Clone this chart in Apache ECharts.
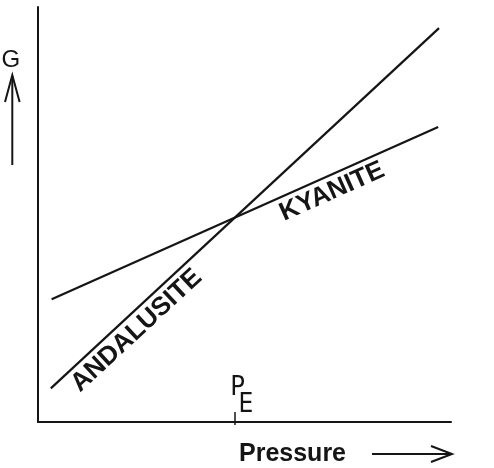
<!DOCTYPE html>
<html><head><meta charset="utf-8">
<script src="https://cdn.jsdelivr.net/npm/echarts@6/dist/echarts.min.js"></script>
<style>html,body{margin:0;padding:0;background:#fff}#c{width:494px;height:468px}</style>
</head><body><div id="c"></div>
<script>
// Data (arbitrary units: pressure 0-100, G 0-100)
const pressure = [3.1, 97.1];
const andalusiteG = [8.1, 94.9];
const kyanitePressure = [3.3, 96.9];
const kyaniteG = [29.6, 71.1];
const pEquilibrium = 47.7;
const peTickG = [-0.7, 2.4];
const seriesNames = ['ANDALUSITE', 'KYANITE'];
const xAxisName = 'Pressure';
const yAxisName = 'G';

const INK = '#151515';
const FONT = '"Liberation Sans", Arial, Helvetica, sans-serif';
const NARROW = '"Liberation Sans Narrow", "Arial Narrow", "DejaVu Sans Condensed", "Liberation Sans", sans-serif';

const chart = echarts.init(document.getElementById('c'), null, {renderer: 'canvas'});

const axisCommon = {
  type: 'value', min: 0, max: 100,
  axisLine: {show: true, onZero: false, lineStyle: {color: INK, width: 2}},
  axisTick: {show: false}, axisLabel: {show: false}, splitLine: {show: false}
};

chart.setOption({
  animation: false,
  backgroundColor: '#fff',
  grid: {left: 38, right: 43, top: 7, bottom: 46, containLabel: false},
  xAxis: axisCommon,
  yAxis: axisCommon,
  series: [
    {name: seriesNames[0], type: 'line', symbol: 'none', clip: false,
     data: pressure.map((p, i) => [p, andalusiteG[i]]),
     lineStyle: {color: INK, width: 2.2}},
    {name: seriesNames[1], type: 'line', symbol: 'none', clip: false,
     data: kyanitePressure.map((p, i) => [p, kyaniteG[i]]),
     lineStyle: {color: INK, width: 2.2}},
    {name: 'PE tick', type: 'line', symbol: 'none', clip: false,
     data: peTickG.map(g => [pEquilibrium, g]),
     lineStyle: {color: INK, width: 1.5}}
  ]
});

function px(p, g) { return chart.convertToPixel({gridIndex: 0}, [p, g]); }

function txt(text, x, y, size, weight, family, extra) {
  return Object.assign({
    type: 'text', x: x, y: y,
    style: {text: text, fill: INK, fontSize: size, fontWeight: weight, fontFamily: family,
            align: 'center', verticalAlign: 'middle'}
  }, extra || {});
}

function lineLabel(text, p0, p1, t, normal) {
  const a = px(p0[0], p0[1]), b = px(p1[0], p1[1]);
  const dx = b[0] - a[0], dy = b[1] - a[1];
  const len = Math.hypot(dx, dy);
  const ux = dx / len, uy = dy / len;
  const nx = -uy, ny = ux; // normal pointing below the line
  const cx = a[0] + ux * len * t + nx * normal;
  const cy = a[1] + uy * len * t + ny * normal;
  return txt(text, cx, cy, 26, 'bold', FONT, {rotation: Math.atan2(-dy, dx)});
}

const pe = px(pEquilibrium, 0);
const graphics = [
  lineLabel(seriesNames[0], [pressure[0], andalusiteG[0]], [pressure[1], andalusiteG[1]], 0.193, 16),
  lineLabel(seriesNames[1], [kyanitePressure[0], kyaniteG[0]], [kyanitePressure[1], kyaniteG[1]], 0.709, 16),
  // P_E label
  txt('P', pe[0] + 2.5, 387.5, 27, 'normal', NARROW),
  txt('E', pe[0] + 11, 405, 26, 'normal', NARROW),
  // y axis name and arrow
  txt(yAxisName, 10.8, 60.5, 24, 'normal', FONT),
  {type: 'line', shape: {x1: 12.3, y1: 165, x2: 12.3, y2: 76}, style: {stroke: INK, lineWidth: 2}},
  {type: 'polyline', shape: {points: [[5, 102], [12.3, 75], [19.6, 102]]}, style: {stroke: INK, lineWidth: 2, fill: null}},
  // x axis name and arrow
  txt(xAxisName, 292.5, 454, 25, 'bold', FONT),
  {type: 'line', shape: {x1: 372, y1: 454, x2: 451, y2: 454}, style: {stroke: INK, lineWidth: 2}},
  {type: 'polyline', shape: {points: [[431, 446], [452, 454], [431, 462]]}, style: {stroke: INK, lineWidth: 2, fill: null}}
];
chart.setOption({graphic: graphics});
</script>
</body></html>
